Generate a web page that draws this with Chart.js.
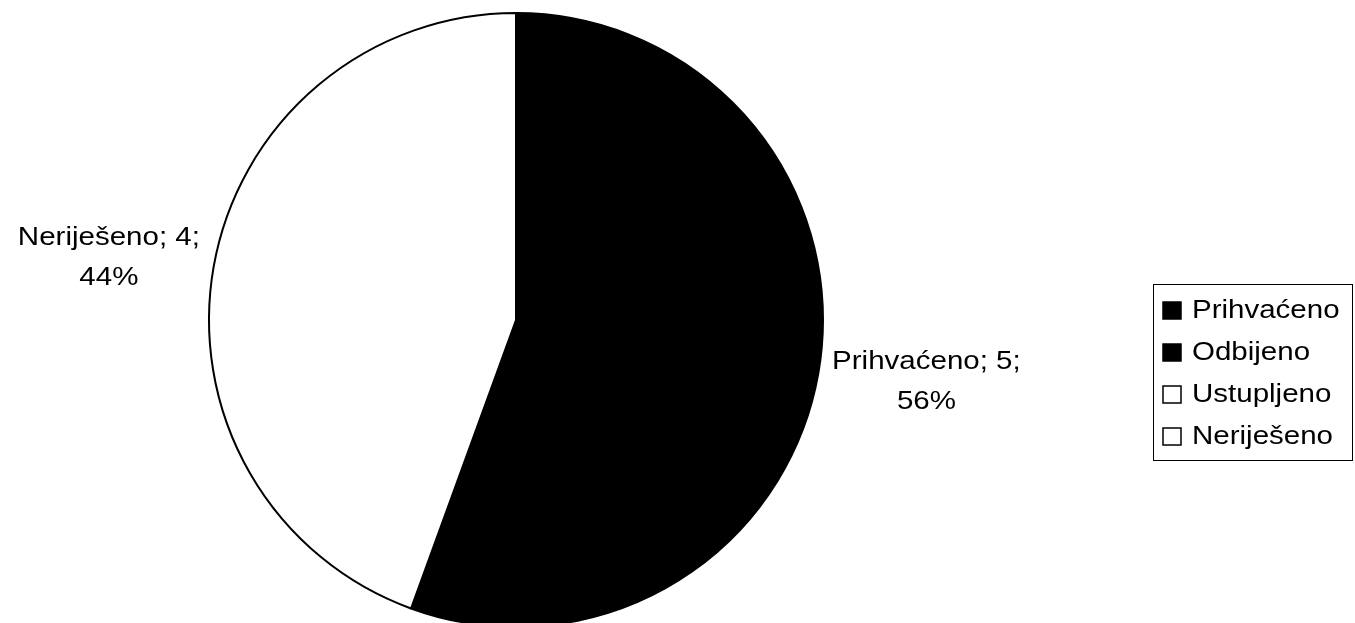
<!DOCTYPE html>
<html>
<head>
<meta charset="utf-8">
<script src="https://cdn.jsdelivr.net/npm/chart.js@4/dist/chart.umd.min.js"></script>
<style>
  html, body { margin: 0; padding: 0; background: #fff; overflow: hidden; }
  #wrap { width: 1355px; height: 628px; }
</style>
</head>
<body>
<div id="wrap"><canvas id="myChart"></canvas></div>
<script>
const labels = ['Prihvaćeno', 'Odbijeno', 'Ustupljeno', 'Neriješeno'];
const values = [5, 0, 0, 4];
const percents = [56, 0, 0, 44];
const colors = ['#000000', '#000000', '#ffffff', '#ffffff'];

const FONT = '25px "Liberation Sans", Arial, sans-serif';
const STRETCH = 1.18; // the scan's text is a bit wide

// outside labels "Name; n;" / "p%"
const sliceLabels = {
  id: 'sliceLabels',
  afterDatasetsDraw(chart) {
    const ctx = chart.ctx;
    const meta = chart.getDatasetMeta(0);
    ctx.save();
    ctx.font = FONT;
    ctx.fillStyle = '#000';
    ctx.textBaseline = 'middle';
    ctx.textAlign = 'center';
    meta.data.forEach((arc, i) => {
      if (!values[i]) return;
      const p = arc.getProps(['x', 'y', 'startAngle', 'endAngle', 'outerRadius']);
      const mid = (p.startAngle + p.endAngle) / 2;
      const lines = [labels[i] + '; ' + values[i] + ';', percents[i] + '%'];
      const w = Math.max(...lines.map(t => ctx.measureText(t).width)) * STRETCH;
      const edge = p.x + Math.cos(mid) * (p.outerRadius + 14);
      const cx = Math.cos(mid) < 0 ? edge - w / 2 : edge + w / 2;
      const cy = p.y + Math.sin(mid) * (p.outerRadius + 51);
      lines.forEach((t, k) => {
        ctx.save();
        ctx.translate(cx, cy + (k - 0.5) * 40);
        ctx.scale(STRETCH, 1);
        ctx.fillText(t, 0, 0);
        ctx.restore();
      });
    });
    ctx.restore();
  }
};

// boxed legend on the right
const boxLegend = {
  id: 'boxLegend',
  afterDraw(chart) {
    const ctx = chart.ctx;
    const left = 1153, top = 284, right = 1352, bottom = 460;
    const rowH = 42, firstY = 311;
    ctx.save();
    ctx.strokeStyle = '#000';
    ctx.lineWidth = 1;
    ctx.strokeRect(left + 0.5, top + 0.5, right - left, bottom - top);
    ctx.font = FONT;
    ctx.textBaseline = 'middle';
    ctx.textAlign = 'left';
    labels.forEach((name, i) => {
      const y = firstY + i * rowH;
      ctx.fillStyle = colors[i];
      ctx.fillRect(1163, y - 9, 18, 17);
      ctx.lineWidth = 1.5;
      ctx.strokeStyle = '#000';
      ctx.strokeRect(1163, y - 9, 18, 17);
      ctx.fillStyle = '#000';
      ctx.save();
      ctx.translate(1192, y);
      ctx.scale(STRETCH, 1);
      ctx.fillText(name, 0, 0);
      ctx.restore();
    });
    ctx.restore();
  }
};

const data = {
  labels: labels,
  datasets: [{
    data: values,
    backgroundColor: colors,
    borderColor: '#000000',
    borderWidth: 2
  }]
};

const config = {
  type: 'pie',
  data: data,
  options: {
    responsive: true,
    maintainAspectRatio: false,
    animation: false,
    layout: { padding: { top: 12, bottom: 0, left: 0, right: 323 } },
    plugins: {
      legend: { display: false },
      tooltip: { enabled: false }
    }
  },
  plugins: [sliceLabels, boxLegend]
};

new Chart(document.getElementById('myChart'), config);
</script>
</body>
</html>
